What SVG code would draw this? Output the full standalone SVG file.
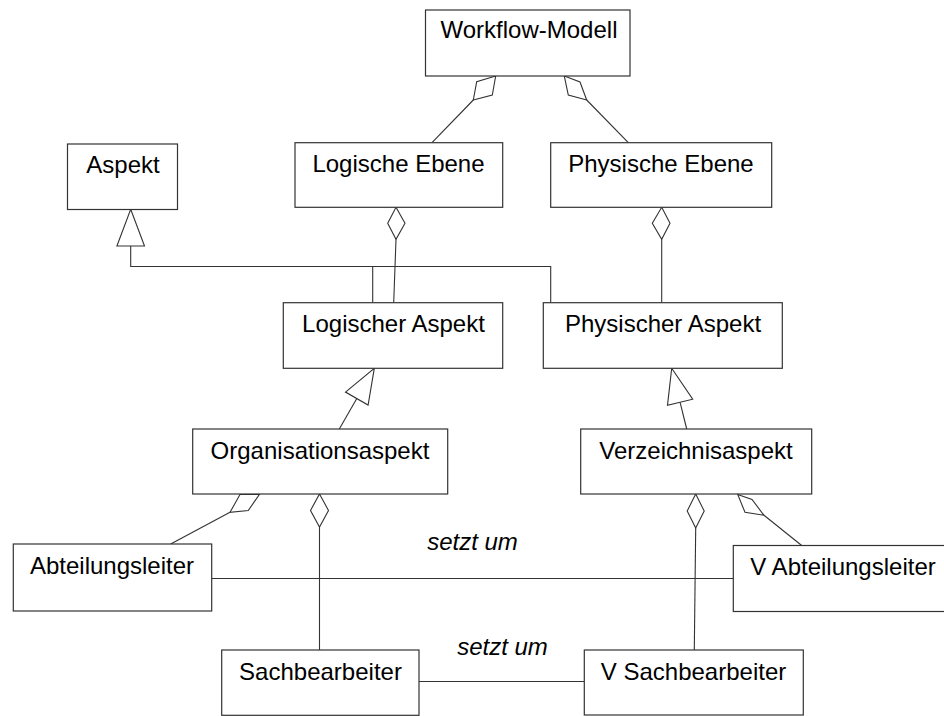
<svg xmlns="http://www.w3.org/2000/svg" width="944" height="716" viewBox="0 0 944 716">
  <style>
    .node rect { fill: #fff; stroke: #333; stroke-width: 1.2; }
    .node text, .lbl { font-family: "Liberation Sans", Arial, sans-serif; font-size: 24px; fill: #000; text-anchor: middle; }
    .lbl { font-style: italic; }
    #connectors line, #connectors polyline { fill: none; stroke: #333; stroke-width: 1.1; }
    #connectors polygon { fill: #fff; stroke: #333; stroke-width: 1.1; }
  </style>
  <rect width="944" height="716" fill="#fff"/>

  <!-- associations, aggregations and generalizations -->
  <g id="connectors">
    <!-- Workflow-Modell aggregates both levels -->
    <line x1="473.3" y1="100" x2="432" y2="142.7"/>
    <polygon points="495.7,76 492.3,95 473.3,100 476.7,81.7"/>
    <line x1="586.7" y1="100" x2="628.3" y2="142.7"/>
    <polygon points="564.3,76 580,82 586.7,100 568.3,95"/>

    <!-- levels aggregate their aspects -->
    <line x1="396" y1="239.3" x2="393.7" y2="302.7"/>
    <polygon points="396,207.3 405,223.3 396,239.3 387.7,223.3"/>
    <line x1="661.7" y1="239.3" x2="661.7" y2="302.7"/>
    <polygon points="661.7,207.3 670,223.3 661.7,239.3 652.3,223.3"/>

    <!-- generalization to Aspekt -->
    <polyline points="130.7,246 130.7,266.5 550.7,266.5 550.7,302.7"/>
    <line x1="372.7" y1="266.5" x2="372.7" y2="302.7"/>
    <polygon points="130.7,209.3 144.5,246 116.9,246"/>

    <!-- Organisationsaspekt is a Logischer Aspekt -->
    <line x1="356.8" y1="398.6" x2="339.3" y2="429"/>
    <polygon points="374.3,368.3 368.1,405.1 345.5,392.1"/>

    <!-- Verzeichnisaspekt is a Physischer Aspekt -->
    <line x1="680.1" y1="402.3" x2="686.7" y2="429"/>
    <polygon points="671.7,368.3 692.7,399.2 667.5,405.4"/>

    <!-- Organisationsaspekt parts -->
    <line x1="230" y1="512.3" x2="170.7" y2="544"/>
    <polygon points="240,494.5 259.3,494.5 248.3,510.5 230,512.3"/>
    <line x1="319.5" y1="527" x2="319.5" y2="650"/>
    <polygon points="319.5,494 328.5,510.5 319.5,527 310.5,510.5"/>

    <!-- Verzeichnisaspekt parts -->
    <line x1="695.7" y1="528" x2="694.3" y2="650"/>
    <polygon points="695.7,494 704.2,511 695.7,528 687.2,511"/>
    <line x1="764" y1="515.3" x2="801.7" y2="545.5"/>
    <polygon points="737.7,494.5 752,499.5 764,515.3 745,512.3"/>

    <!-- "setzt um" associations -->
    <line x1="211.7" y1="578.5" x2="733.3" y2="578.5"/>
    <text class="lbl" x="472.5" y="550">setzt um</text>
    <line x1="419" y1="681.5" x2="584.3" y2="681.5"/>
    <text class="lbl" x="502.5" y="655">setzt um</text>
  </g>

  <g id="workflow-modell" class="node">
    <rect x="425.5" y="10" width="204.5" height="66"/>
    <text x="529" y="38">Workflow-Modell</text>
  </g>
  <g id="aspekt" class="node">
    <rect x="67.5" y="144" width="110" height="65.5"/>
    <text x="123" y="173">Aspekt</text>
  </g>
  <g id="logische-ebene" class="node">
    <rect x="295" y="142.7" width="207.7" height="64.6"/>
    <text x="398.5" y="172">Logische Ebene</text>
  </g>
  <g id="physische-ebene" class="node">
    <rect x="550.7" y="142.7" width="221" height="64.6"/>
    <text x="661" y="172">Physische Ebene</text>
  </g>
  <g id="logischer-aspekt" class="node">
    <rect x="283.3" y="302.7" width="219.4" height="65.6"/>
    <text x="393.5" y="332">Logischer Aspekt</text>
  </g>
  <g id="physischer-aspekt" class="node">
    <rect x="543.3" y="302.7" width="239" height="65.6"/>
    <text x="663" y="332">Physischer Aspekt</text>
  </g>
  <g id="organisationsaspekt" class="node">
    <rect x="192.7" y="429" width="255" height="65"/>
    <text x="320" y="458.5">Organisationsaspekt</text>
  </g>
  <g id="verzeichnisaspekt" class="node">
    <rect x="580.7" y="429" width="231" height="65"/>
    <text x="696" y="458.5">Verzeichnisaspekt</text>
  </g>
  <g id="abteilungsleiter" class="node">
    <rect x="13.3" y="544" width="198.4" height="67"/>
    <text x="112" y="573.5">Abteilungsleiter</text>
  </g>
  <g id="v-abteilungsleiter" class="node">
    <rect x="733.3" y="545.5" width="220" height="66"/>
    <text x="843" y="575">V Abteilungsleiter</text>
  </g>
  <g id="sachbearbeiter" class="node">
    <rect x="221.7" y="650" width="197.3" height="65.3"/>
    <text x="320.5" y="679.5">Sachbearbeiter</text>
  </g>
  <g id="v-sachbearbeiter" class="node">
    <rect x="584.3" y="650" width="219" height="65"/>
    <text x="693.5" y="679.5">V Sachbearbeiter</text>
  </g>
</svg>
